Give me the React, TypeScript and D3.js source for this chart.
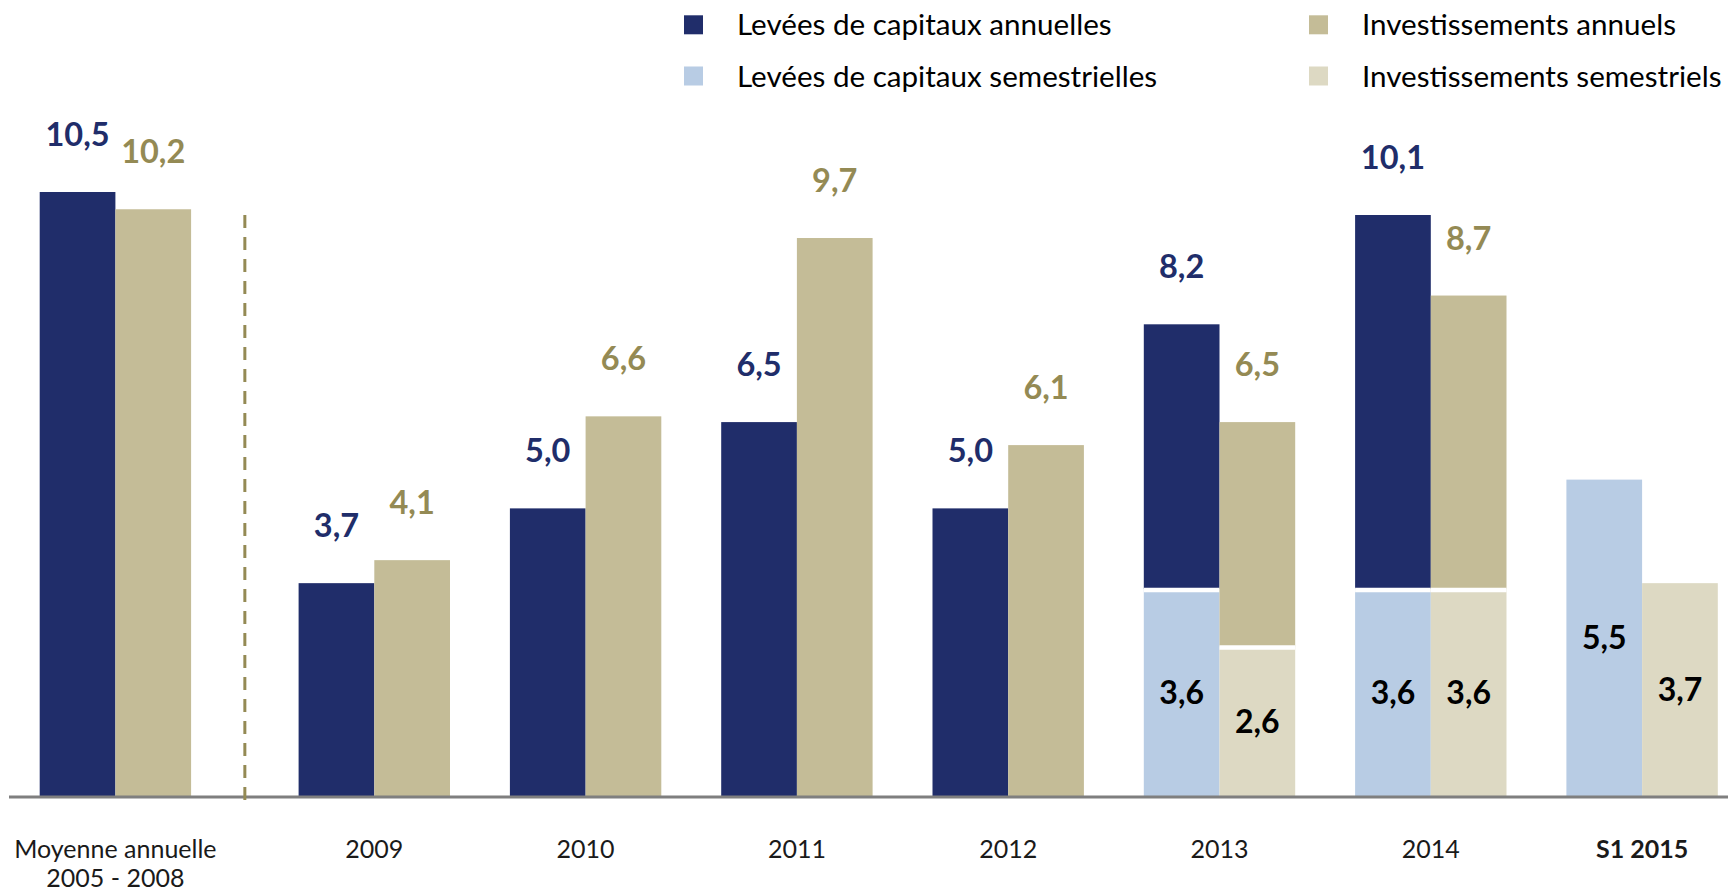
import React, { useEffect, useRef } from "react";
import * as d3 from "d3";

const categories = ["Moyenne annuelle\n2005 - 2008", "2009", "2010", "2011", "2012", "2013", "2014", "S1 2015"];
const boldCategories = ["S1 2015"];
// Annual totals (null = no annual bar)
const leveesAnnuelles: (number | null)[] = [10.5, 3.7, 5.0, 6.5, 5.0, 8.2, 10.1, null];
const investAnnuels: (number | null)[] = [10.2, 4.1, 6.6, 9.7, 6.1, 6.5, 8.7, null];
// Semester (H1) part
const leveesSemestrielles: (number | null)[] = [null, null, null, null, null, 3.6, 3.6, 5.5];
const investSemestriels: (number | null)[] = [null, null, null, null, null, 2.6, 3.6, 3.7];

const legendItems = [
  { label: "Levées de capitaux annuelles", color: "#202D6A" },
  { label: "Investissements annuels", color: "#C4BC97" },
  { label: "Levées de capitaux semestrielles", color: "#B8CCE4" },
  { label: "Investissements semestriels", color: "#DDD9C3" },
];

const fmt = (v: number) => v.toFixed(1).replace(".", ",");

export default function App() {
  const ref = useRef<SVGSVGElement>(null);
  useEffect(() => {
    const W = 1728, H = 891;
    const svg = d3.select(ref.current);
    svg.selectAll("*").remove();
    const font = "Lato, 'Open Sans', sans-serif";
    const NAVY = "#202D6A", BEIGE = "#C4BC97", LBLUE = "#B8CCE4", LBEIGE = "#DDD9C3", OLIVE = "#948A54";

    const y = d3.scaleLinear().domain([0, 10.5]).range([796, 192]);
    const xBand = d3.scaleBand<string>().domain(categories).range([87.3, 1717.8]).paddingInner(0.2835).paddingOuter(0);
    const firstShift = -47.6;
    const gx = (c: string, i: number) => (xBand(c) as number) + (i === 0 ? firstShift : 0);
    const bw = xBand.bandwidth() / 2;

    const g = svg.append("g");

    categories.forEach((c, i) => {
      const x0 = gx(c, i);
      const series = [
        { tot: leveesAnnuelles[i], sem: leveesSemestrielles[i], dark: NAVY, light: LBLUE, lab: NAVY, x: x0 },
        { tot: investAnnuels[i], sem: investSemestriels[i], dark: BEIGE, light: LBEIGE, lab: OLIVE, x: x0 + bw },
      ];
      series.forEach((s) => {
        if (s.sem != null) {
          g.append("rect").attr("x", s.x).attr("width", bw).attr("y", y(s.sem)).attr("height", y(0) - y(s.sem)).attr("fill", s.light);
        }
        if (s.tot != null) {
          const base = s.sem != null ? s.sem : 0;
          g.append("rect").attr("x", s.x).attr("width", bw).attr("y", y(s.tot)).attr("height", y(base) - y(s.tot)).attr("fill", s.dark);
          if (s.sem != null) {
            g.append("line").attr("x1", s.x).attr("x2", s.x + bw).attr("y1", y(s.sem) + 1).attr("y2", y(s.sem) + 1)
              .attr("stroke", "#fff").attr("stroke-width", 4.5);
          }
          g.append("text").attr("x", s.x + bw / 2).attr("y", y(s.tot) - 46).attr("text-anchor", "middle")
            .attr("font-family", font).attr("font-weight", 700).attr("font-size", 32.5).attr("fill", s.lab).text(fmt(s.tot));
        }
        if (s.sem != null) {
          const mid = (y(s.sem) + y(0)) / 2;
          g.append("text").attr("x", s.x + bw / 2).attr("y", mid + 11.5).attr("text-anchor", "middle")
            .attr("font-family", font).attr("font-weight", 700).attr("font-size", 32).attr("fill", "#000").text(fmt(s.sem));
        }
      });

      const lines = c.split("\n");
      lines.forEach((ln, k) => {
        g.append("text").attr("x", x0 + bw).attr("y", 858 + k * 28.5).attr("text-anchor", "middle")
          .attr("font-family", font).attr("font-size", 25)
          .attr("font-weight", boldCategories.includes(c) ? 700 : 400)
          .attr("fill", "#1a1a1a").text(ln);
      });
    });

    // axis baseline
    g.append("line").attr("x1", 9).attr("x2", W).attr("y1", y(0) + 1).attr("y2", y(0) + 1).attr("stroke", "#7F7F7F").attr("stroke-width", 3);

    // dashed separator between first and second group
    const sepX = ((gx(categories[0], 0) + 2 * bw) + gx(categories[1], 1)) / 2;
    g.append("line").attr("x1", sepX).attr("x2", sepX).attr("y1", 215).attr("y2", 808)
      .attr("stroke", OLIVE).attr("stroke-width", 3).attr("stroke-dasharray", "13,9");

    // legend
    const legCols = [684, 1309];
    const legRows = [24.8, 76];
    legendItems.forEach((it, i) => {
      const col = i % 2, row = Math.floor(i / 2);
      const lg = g.append("g").attr("transform", `translate(${legCols[col]},${legRows[row]})`);
      lg.append("rect").attr("x", 0).attr("y", -9.5).attr("width", 19).attr("height", 19).attr("fill", it.color);
      lg.append("text").attr("x", 53).attr("y", 10.5).attr("font-family", font).attr("font-size", 29.6).attr("fill", "#000").text(it.label);
    });
  }, []);
  return (
    <svg ref={ref} width={1728} height={891} style={{ position: "absolute", left: 0, top: 0, background: "#fff" }} />
  );
}
